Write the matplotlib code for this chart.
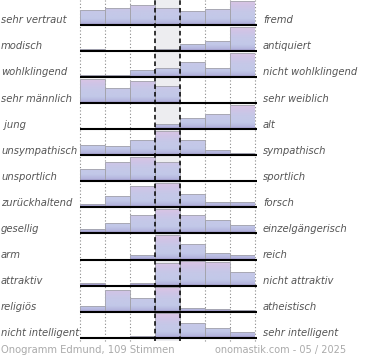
import matplotlib
matplotlib.use("Agg")
import matplotlib.pyplot as plt
import numpy as np
from matplotlib.colors import LinearSegmentedColormap

left_labels = ["sehr vertraut", "modisch", "wohlklingend", "sehr männlich", " jung",
               "unsympathisch", "unsportlich", "zurückhaltend", "gesellig", "arm",
               "attraktiv", "religiös", "nicht intelligent"]
right_labels = ["fremd", "antiquiert", "nicht wohlklingend", "sehr weiblich", "alt",
                "sympathisch", "sportlich", "forsch", "einzelgängerisch", "reich",
                "nicht attraktiv", "atheistisch", "sehr intelligent"]
# relative share per scale step (largest step of each scale = 100)
shares = [
    [60, 68, 82, 71, 57, 64, 100],
    [7, 0, 0, 7, 28, 43, 100],
    [7, 7, 28, 36, 61, 39, 100],
    [100, 64, 90, 72, 5, 0, 0],
    [7, 7, 0, 22, 44, 61, 100],
    [42, 36, 63, 100, 63, 20, 11],
    [49, 80, 100, 80, 3, 3, 3],
    [12, 47, 89, 100, 54, 23, 23],
    [18, 42, 76, 100, 76, 54, 33],
    [0, 0, 19, 100, 62, 26, 18],
    [10, 0, 10, 93, 100, 98, 54],
    [24, 90, 56, 100, 15, 10, 7],
    [0, 0, 8, 100, 60, 38, 22],
]
footer_left = "Onogramm Edmund, 109 Stimmen"
footer_right = "onomastik.com - 05 / 2025"

W, H = 370, 360
fig = plt.figure(figsize=(W / 100, H / 100), dpi=100)
pitch = 26.06
n = len(left_labels)
ymin, ymax = -0.12, n - 1 + 0.96
ax_h = (ymax - ymin) * pitch
ax = fig.add_axes([80 / W, 1 - ax_h / H, 175 / W, ax_h / H])
ax.axis('off')

full = 0.94
cmap = LinearSegmentedColormap.from_list(
    'g', [(0, '#9484be'), (0.06, '#b2b2dc'), (0.25, '#c2c8e8'), (0.55, '#c6c8e8'),
          (0.8, '#d0c4e6'), (1, '#dcc4e4')])
grad = np.linspace(0, 1, 64).reshape(-1, 1)
steps = np.arange(7)

ax.axvspan(3, 4, color='#ededf0', zorder=0, lw=0)
for k, row in enumerate(shares):
    base = n - 1 - k
    hts = np.array(row, dtype=float) / max(row) * full
    bars = ax.bar(steps, hts, width=1, bottom=base, align='edge', facecolor='none',
                  edgecolor='#a4a4ac', linewidth=0.6, zorder=3)
    for i, b in enumerate(bars):
        if row[i] <= 0:
            continue
        im = ax.imshow(grad, cmap=cmap, origin='lower', aspect='auto',
                       extent=(i, i + 1, base, base + full), zorder=2,
                       interpolation='bilinear')
        im.set_clip_path(b)
    ax.hlines(base, 0, 7.06, color='black', lw=1.5, zorder=5, clip_on=False)
    ax.annotate(left_labels[k], xy=(1 / W, base + 0.065),
                xycoords=('figure fraction', 'data'), ha='left', va='baseline',
                fontsize=7.2, style='italic', color='#555555')
    ax.annotate(right_labels[k], xy=(263 / W, base + 0.065),
                xycoords=('figure fraction', 'data'), ha='left', va='baseline',
                fontsize=7.2, style='italic', color='#555555')

for xv in [0, 1, 2, 5, 6, 7]:
    ax.axvline(xv, color='#888888', lw=0.8, ls=(0, (1, 2)), zorder=1, clip_on=False)
for xv in [3, 4]:
    ax.axvline(xv, color='black', lw=1.1, ls=(0, (3, 2)), zorder=6)

ax.set_xlim(0, 7)
ax.set_ylim(ymin, ymax)

fig.text(1 / W, (H - 353) / H, footer_left, ha='left', va='baseline',
         fontsize=7.2, color='#aaaaaa')
fig.text(346 / W, (H - 353) / H, footer_right, ha='right', va='baseline',
         fontsize=7.0, color='#aaaaaa')

fig.savefig('out.png', dpi=100)
